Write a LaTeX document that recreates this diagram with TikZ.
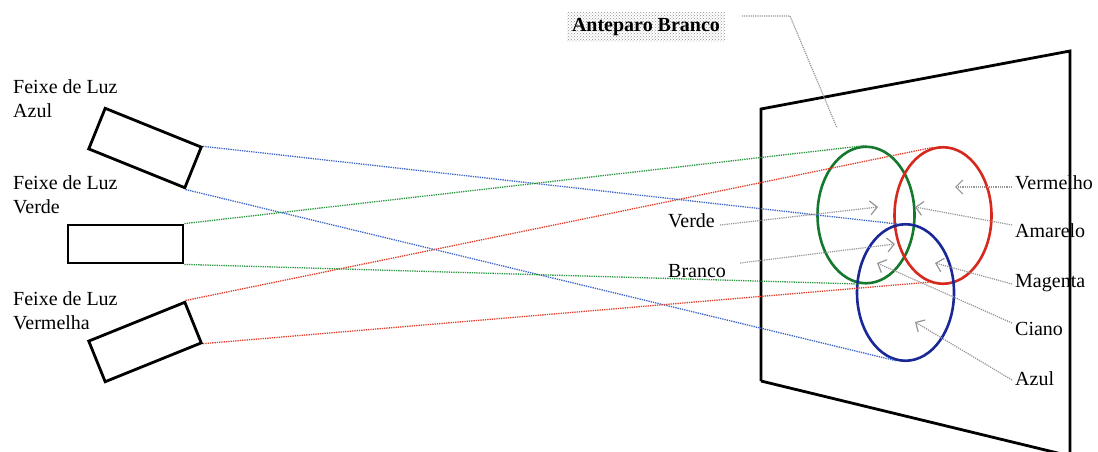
\documentclass[tikz,border=0pt]{standalone}
\usepackage{fontspec}
\setmainfont{Liberation Serif}
\usetikzlibrary{shapes.geometric,arrows.meta,patterns,calc}
\definecolor{ellG}{RGB}{20,120,45}
\definecolor{ellR}{RGB}{215,40,30}
\definecolor{ellB}{RGB}{25,40,150}
\definecolor{beamG}{RGB}{40,150,60}
\definecolor{beamR}{RGB}{225,60,40}
\definecolor{beamB}{RGB}{60,100,200}
\definecolor{lead}{RGB}{150,150,150}
\tikzset{
  lamp/.style={draw=black,line width=2.8pt,rectangle,inner sep=0pt,minimum width=103.6pt,minimum height=43.8pt},
  spot/.style={ellipse,draw,line width=2.6pt,inner sep=0pt,minimum width=97pt,minimum height=136.5pt},
  beam/.style={densely dotted,line width=1.3pt},
  txt/.style={inner sep=0pt,font=\fontsize{20}{24}\selectfont},
  ptr/.style={draw=lead,densely dotted,line width=1.2pt,-{Straight Barb[length=7pt,width=14pt,line width=1.2pt]}},
}
\begin{document}
\begin{tikzpicture}[x=1pt,y=-1pt]
\useasboundingbox (0,0) rectangle (1098,452);
\fill[white] (0,0) rectangle (1098,452);
% screen
\begin{scope}
\clip (0,0) rectangle (1098,452);
\draw[line width=2.8pt,line join=miter] (761,381) -- (761,109) -- (1070,51) -- (1070,470);
\draw[line width=2.8pt] (761,381) -- (1070,456);
\end{scope}
% lamps
\node[lamp,rotate=-22] (lB) at (145,148) {};
\node[lamp,minimum width=115pt,minimum height=38pt] (lG) at (125.5,244) {};
\node[lamp,rotate=22] (lR) at (145,342) {};
% spots
\node[spot,draw=ellG] (sG) at (866,215) {};
\node[spot,draw=ellR] (sR) at (943,215.5) {};
\node[spot,draw=ellB] (sB) at (905.5,292.5) {};
% beams
\draw[beam,beamB] (lB.north east) -- (sB.97);
\draw[beam,beamB] (lB.south east) -- (sB.262);
\draw[beam,beamG] (lG.north east) -- (sG.north);
\draw[beam,beamG] (lG.south east) -- (sG.265);
\draw[beam,beamR] (lR.north east) -- (sR.98);
\draw[beam,beamR] (lR.south east) -- (sR.258);
% left labels
\node[txt,anchor=north west,align=left] (tB) at (13,79.3) {Feixe de Luz\\Azul};
\node[txt,anchor=north west,align=left] (tG) at (13,175.3) {Feixe de Luz\\Verde};
\node[txt,anchor=north west,align=left] (tR) at (13,291.3) {Feixe de Luz\\Vermelha};
% title
\node[txt,anchor=center,pattern=crosshatch dots,pattern color=gray!85,minimum width=158pt,minimum height=30pt,font=\fontsize{20}{24}\selectfont\bfseries] (ant) at (646,27) {Anteparo Branco};
\coordinate (ld0) at (742,16);
\coordinate (ld1) at (790,16);
\coordinate (ld2) at (837,128);
\draw[draw=lead,densely dotted,line width=1.2pt] (ld0) -- (ld1) -- (ld2);
% right labels
\node[txt,anchor=base west] (nVm) at (1015,189) {Vermelho};
\node[txt,anchor=base west] (nAm) at (1015,237) {Amarelo};
\node[txt,anchor=base west] (nMg) at (1015,287) {Magenta};
\node[txt,anchor=base west] (nCi) at (1015,335) {Ciano};
\node[txt,anchor=base west] (nAz) at (1015,385) {Azul};
\node[txt,anchor=base west] (nVd) at (668,227) {Verde};
\node[txt,anchor=base west] (nBr) at (668,277) {Branco};
% pointer targets
\coordinate (pVm) at (955,187);
\coordinate (pAm) at (915,207);
\coordinate (pMg) at (935,263);
\coordinate (pCi) at (877,263);
\coordinate (pAz) at (915,322);
\coordinate (pVd) at (878,207);
\coordinate (pBr) at (895,244);
\draw[ptr] ($(nVm.base west)+(-3,-2)$) -- (pVm);
\draw[ptr] ($(nAm.base west)+(-3,-12)$) -- (pAm);
\draw[ptr] ($(nMg.base west)+(-3,-3)$) -- (pMg);
\draw[ptr] ($(nCi.base west)+(-3,-12)$) -- (pCi);
\draw[ptr] ($(nAz.base west)+(-3,-5)$) -- (pAz);
\draw[ptr] ($(nVd.base east)+(5,-2)$) -- (pVd);
\draw[ptr] ($(nBr.base east)+(14,-14)$) -- (pBr);
\end{tikzpicture}
\end{document}
